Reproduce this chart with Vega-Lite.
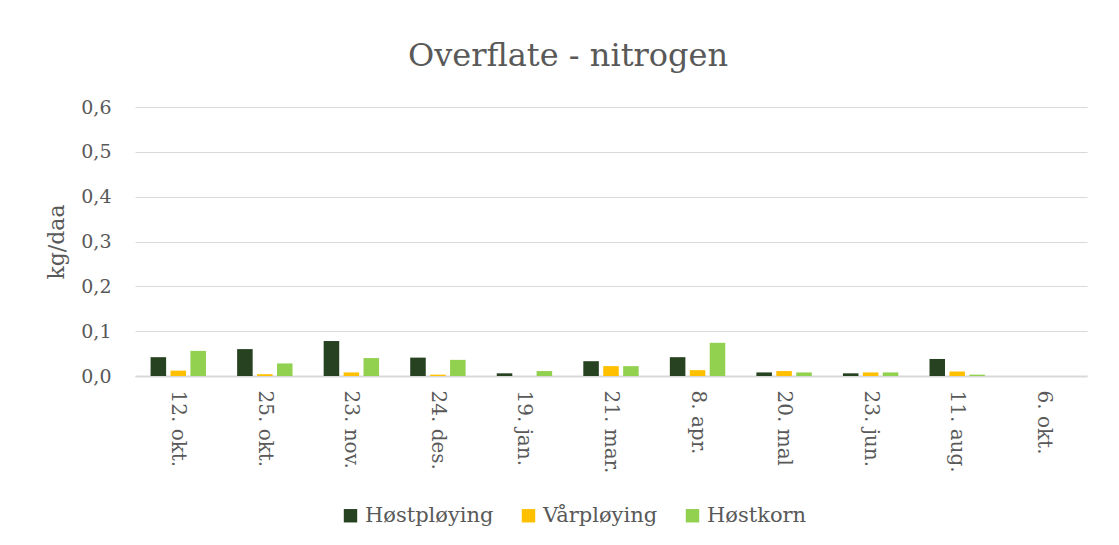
{
  "$schema": "https://vega.github.io/schema/vega-lite/v6.json",
  "autosize": "none",
  "width": 952,
  "height": 269,
  "padding": {"left": 135, "top": 107, "right": 32, "bottom": 169},
  "background": "white",
  "title": {
    "text": "Overflate - nitrogen",
    "font": "DejaVu Serif",
    "fontSize": 32,
    "fontWeight": "normal",
    "color": "#595959",
    "anchor": "middle",
    "dx": -43,
    "offset": 25
  },
  "data": {
    "values": [
      {"dato": "12. okt.", "serie": "Høstpløying", "verdi": 0.042},
      {"dato": "12. okt.", "serie": "Vårpløying", "verdi": 0.012},
      {"dato": "12. okt.", "serie": "Høstkorn", "verdi": 0.056},
      {"dato": "25. okt.", "serie": "Høstpløying", "verdi": 0.060},
      {"dato": "25. okt.", "serie": "Vårpløying", "verdi": 0.004},
      {"dato": "25. okt.", "serie": "Høstkorn", "verdi": 0.028},
      {"dato": "23. nov.", "serie": "Høstpløying", "verdi": 0.078},
      {"dato": "23. nov.", "serie": "Vårpløying", "verdi": 0.008},
      {"dato": "23. nov.", "serie": "Høstkorn", "verdi": 0.040},
      {"dato": "24. des.", "serie": "Høstpløying", "verdi": 0.041},
      {"dato": "24. des.", "serie": "Vårpløying", "verdi": 0.003},
      {"dato": "24. des.", "serie": "Høstkorn", "verdi": 0.036},
      {"dato": "19. jan.", "serie": "Høstpløying", "verdi": 0.006},
      {"dato": "19. jan.", "serie": "Vårpløying", "verdi": 0.0},
      {"dato": "19. jan.", "serie": "Høstkorn", "verdi": 0.011},
      {"dato": "21. mar.", "serie": "Høstpløying", "verdi": 0.033},
      {"dato": "21. mar.", "serie": "Vårpløying", "verdi": 0.022},
      {"dato": "21. mar.", "serie": "Høstkorn", "verdi": 0.022},
      {"dato": "8. apr.", "serie": "Høstpløying", "verdi": 0.042},
      {"dato": "8. apr.", "serie": "Vårpløying", "verdi": 0.013},
      {"dato": "8. apr.", "serie": "Høstkorn", "verdi": 0.074},
      {"dato": "20. mal", "serie": "Høstpløying", "verdi": 0.008},
      {"dato": "20. mal", "serie": "Vårpløying", "verdi": 0.011},
      {"dato": "20. mal", "serie": "Høstkorn", "verdi": 0.008},
      {"dato": "23. jun.", "serie": "Høstpløying", "verdi": 0.006},
      {"dato": "23. jun.", "serie": "Vårpløying", "verdi": 0.008},
      {"dato": "23. jun.", "serie": "Høstkorn", "verdi": 0.008},
      {"dato": "11. aug.", "serie": "Høstpløying", "verdi": 0.038},
      {"dato": "11. aug.", "serie": "Vårpløying", "verdi": 0.010},
      {"dato": "11. aug.", "serie": "Høstkorn", "verdi": 0.003},
      {"dato": "6. okt.", "serie": "Høstpløying", "verdi": 0.0},
      {"dato": "6. okt.", "serie": "Vårpløying", "verdi": 0.0},
      {"dato": "6. okt.", "serie": "Høstkorn", "verdi": 0.0}
    ]
  },
  "mark": {"type": "bar"},
  "encoding": {
    "x": {
      "field": "dato",
      "type": "nominal",
      "sort": null,
      "scale": {"paddingInner": 0.36, "paddingOuter": 0.18},
      "axis": {
        "title": null,
        "labelAngle": 90,
        "labelAlign": "left",
        "labelBaseline": "middle",
        "labelFont": "DejaVu Serif",
        "labelFontSize": 20,
        "labelColor": "#595959",
        "labelPadding": 14,
        "ticks": false,
        "domainColor": "#d9d9d9",
        "domainWidth": 2
      }
    },
    "xOffset": {
      "field": "serie",
      "type": "nominal",
      "sort": ["Høstpløying", "Vårpløying", "Høstkorn"],
      "scale": {"paddingInner": 0.22}
    },
    "y": {
      "field": "verdi",
      "type": "quantitative",
      "scale": {"domain": [0, 0.6], "nice": false},
      "axis": {
        "title": "kg/daa",
        "titleFont": "DejaVu Serif",
        "titleFontSize": 22,
        "titleFontWeight": "normal",
        "titleColor": "#595959",
        "titlePadding": 12,
        "values": [0, 0.1, 0.2, 0.3, 0.4, 0.5, 0.6],
        "labelExpr": "replace(format(datum.value, '.1f'), '.', ',')",
        "labelFont": "DejaVu Serif",
        "labelFontSize": 19,
        "labelColor": "#595959",
        "labelPadding": 24,
        "ticks": false,
        "domain": false,
        "gridColor": "#d9d9d9",
        "gridWidth": 1
      }
    },
    "color": {
      "field": "serie",
      "type": "nominal",
      "sort": ["Høstpløying", "Vårpløying", "Høstkorn"],
      "scale": {
        "domain": ["Høstpløying", "Vårpløying", "Høstkorn"],
        "range": ["#264220", "#ffc000", "#92d050"]
      },
      "legend": {
        "title": null,
        "orient": "none",
        "legendX": 205,
        "legendY": 398,
        "direction": "horizontal",
        "symbolType": "square",
        "symbolSize": 180,
        "symbolStrokeWidth": 0,
        "labelFont": "DejaVu Serif",
        "labelFontSize": 21,
        "labelColor": "#595959",
        "labelOffset": 4,
        "columnPadding": 24
      }
    }
  },
  "config": {
    "view": {"stroke": null}
  }
}
